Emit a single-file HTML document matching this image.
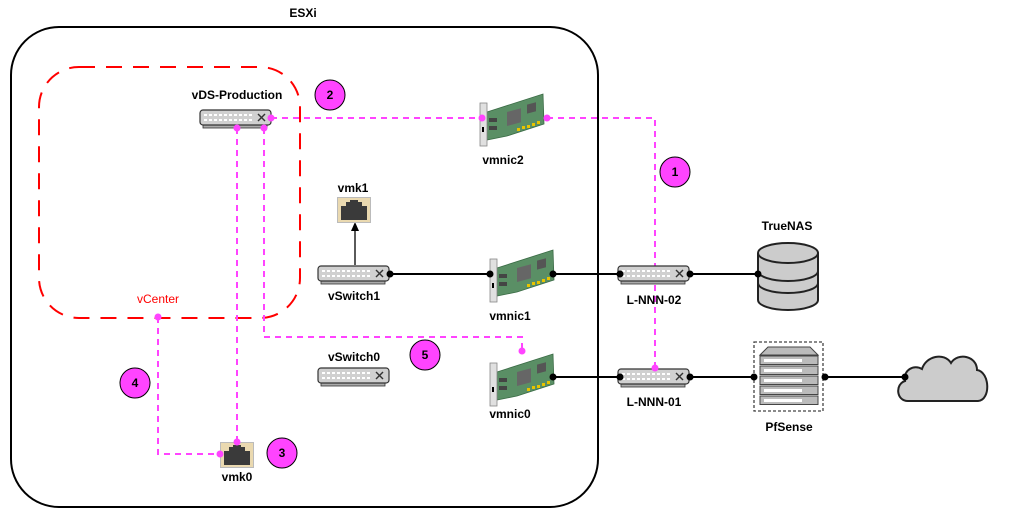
<!DOCTYPE html>
<html><head><meta charset="utf-8"><style>
html,body{margin:0;padding:0;background:#fff;width:1018px;height:519px;overflow:hidden}
text{font-family:"Liberation Sans",Arial,sans-serif;font-weight:bold;font-size:12px;fill:#000}
</style></head><body>
<svg width="1018" height="519" viewBox="0 0 1018 519" xmlns="http://www.w3.org/2000/svg">
<defs>
<symbol id="sw" viewBox="0 0 74 20" width="74" height="20" overflow="visible">
<rect x="4" y="15" width="64" height="4" fill="#aaa" stroke="#333" stroke-width="0.8"/>
<rect x="1" y="1" width="71" height="15" rx="3" fill="#d0d0d0" stroke="#333" stroke-width="1.2"/>
<g stroke="#fff" stroke-width="2" stroke-dasharray="3,2"><line x1="5" y1="6" x2="54" y2="6"/><line x1="5" y1="11" x2="54" y2="11"/></g>
<g stroke="#333" stroke-width="1.4"><line x1="59" y1="5" x2="66" y2="12"/><line x1="66" y1="5" x2="59" y2="12"/></g>
</symbol>
<symbol id="nic" viewBox="0 0 70 56" width="70" height="56" overflow="visible">
<polygon points="10,20 66,2 67,32 30,44 10,48" fill="#5a8f65" stroke="#3a6b45" stroke-width="0.8"/>
<rect x="30" y="18" width="14" height="14" fill="#666" transform="skewY(-15) translate(0,10)"/>
<rect x="50" y="12" width="9" height="9" fill="#555" transform="skewY(-15) translate(0,14)"/>
<g fill="#e8c400"><rect x="40" y="36" width="3" height="3"/><rect x="45" y="34" width="3" height="3"/><rect x="50" y="33" width="3" height="3"/><rect x="55" y="31" width="3" height="3"/><rect x="60" y="29" width="3" height="3"/></g>
<rect x="12" y="26" width="8" height="4" fill="#444"/><rect x="12" y="34" width="8" height="4" fill="#444"/>
<rect x="3" y="11" width="7" height="43" fill="#e0e0e0" stroke="#888" stroke-width="0.8"/>
<rect x="5" y="35" width="2" height="5" fill="#000"/>
</symbol>
<symbol id="rj" viewBox="0 0 34 26" width="34" height="26" overflow="visible">
<rect x="0.5" y="0.5" width="33" height="25" fill="#ead9b0" stroke="#bbb"/>
<path d="M4,9 h5 v-4 h4 v-2 h8 v2 h4 v4 h5 v14 h-26z" fill="#3a3a3a"/>
</symbol>
</defs>

<text x="303" y="17" text-anchor="middle">ESXi</text>
<rect x="11" y="27" width="587" height="480" rx="48" fill="none" stroke="#000" stroke-width="2"/>
<rect x="39" y="67" width="261" height="251" rx="40" fill="none" stroke="#f00" stroke-width="2" stroke-dasharray="16,11"/>

<g fill="none" stroke="#f4f" stroke-width="2" stroke-dasharray="6,5">
<path d="M271,118 H482"/>
<path d="M547,118 H655 V368"/>
<path d="M264,128 V337 H522 V351"/>
<path d="M237,128 V442"/>
<path d="M158,317 V454 H220"/>
</g>

<g stroke="#000" stroke-width="2">
<line x1="390" y1="274" x2="490" y2="274"/>
<line x1="553" y1="274" x2="620" y2="274"/>
<line x1="690" y1="274" x2="758" y2="274"/>
<line x1="553" y1="377" x2="620" y2="377"/>
<line x1="690" y1="377" x2="754" y2="377"/>
<line x1="825" y1="377" x2="905" y2="377"/>
<line x1="355" y1="265" x2="355" y2="230" stroke-width="1.3"/>
</g>
<polygon points="355,222 351,231 359,231" fill="#000"/>

<use href="#sw" x="199" y="109"/>
<use href="#sw" x="317" y="265"/>
<use href="#sw" x="317" y="367"/>
<use href="#sw" x="617" y="265"/>
<use href="#sw" x="617" y="368"/>
<use href="#nic" x="477" y="92"/>
<use href="#nic" x="487" y="248"/>
<use href="#nic" x="487" y="352"/>
<use href="#rj" x="337" y="197"/>
<use href="#rj" x="220" y="442"/>

<g stroke="#222" stroke-width="2" fill="#ccc">
<path d="M758,253 V300 A30,10 0 0 0 818,300 V253"/>
<path d="M758,271 A30,10 0 0 0 818,271 M758,283 A30,10 0 0 0 818,283" fill="none"/>
<ellipse cx="788" cy="253" rx="30" ry="10"/>
</g>

<rect x="754" y="342" width="69" height="69" fill="none" stroke="#444" stroke-width="1.3" stroke-dasharray="3,2"/>
<polygon points="760,355 768,347 810,347 818,355" fill="#bbb" stroke="#444"/>
<g fill="#bbb" stroke="#444">
<rect x="760" y="356" width="58" height="8.5"/><rect x="760" y="366" width="58" height="8.5"/><rect x="760" y="376" width="58" height="8.5"/><rect x="760" y="386" width="58" height="8.5"/><rect x="760" y="396" width="58" height="8.5"/>
</g>
<g fill="#fff"><rect x="764" y="359" width="38" height="3"/><rect x="764" y="369" width="38" height="3"/><rect x="764" y="379" width="38" height="3"/><rect x="764" y="389" width="38" height="3"/><rect x="764" y="399" width="38" height="3"/></g>

<path d="M908,401 C896,401 895,384 905,381 C903,370 914,364 922,369 C926,356 944,352 951,363 C958,352 977,356 977,370 C990,372 991,400 978,401 Z" fill="#ccc" stroke="#222" stroke-width="2"/>

<g fill="#000">
<circle cx="390" cy="274" r="3.5"/><circle cx="490" cy="274" r="3.5"/><circle cx="553" cy="274" r="3.5"/>
<circle cx="620" cy="274" r="3.5"/><circle cx="690" cy="274" r="3.5"/><circle cx="758" cy="274" r="3.5"/>
<circle cx="553" cy="377" r="3.5"/><circle cx="620" cy="377" r="3.5"/><circle cx="690" cy="377" r="3.5"/>
<circle cx="754" cy="377" r="3.5"/><circle cx="825" cy="377" r="3.5"/><circle cx="905" cy="377" r="3.5"/>
</g>
<g fill="#f4f">
<circle cx="271" cy="118" r="3.5"/><circle cx="482" cy="118" r="3.5"/><circle cx="547" cy="118" r="3.5"/>
<circle cx="237" cy="128" r="3.5"/><circle cx="264" cy="128" r="3.5"/><circle cx="655" cy="368" r="3.5"/>
<circle cx="522" cy="351" r="3.5"/><circle cx="237" cy="442" r="3.5"/><circle cx="220" cy="454" r="3.5"/>
<circle cx="158" cy="317" r="3.5"/>
</g>

<g fill="#f4f" stroke="#000" stroke-width="1">
<circle cx="330" cy="95" r="15"/><circle cx="675" cy="172" r="15"/><circle cx="425" cy="355" r="15"/>
<circle cx="135" cy="383" r="15"/><circle cx="282" cy="453" r="15"/>
</g>
<g text-anchor="middle">
<text x="330" y="99">2</text><text x="675" y="176">1</text><text x="425" y="359">5</text>
<text x="135" y="387">4</text><text x="282" y="457">3</text>
</g>

<g text-anchor="middle">
<text x="237" y="99">vDS-Production</text>
<text x="503" y="164">vmnic2</text>
<text x="353" y="192">vmk1</text>
<text x="354" y="300">vSwitch1</text>
<text x="510" y="320">vmnic1</text>
<text x="654" y="304">L-NNN-02</text>
<text x="787" y="230">TrueNAS</text>
<text x="158" y="303" style="fill:#f00;font-weight:normal">vCenter</text>
<text x="354" y="361">vSwitch0</text>
<text x="510" y="418">vmnic0</text>
<text x="654" y="406">L-NNN-01</text>
<text x="789" y="431">PfSense</text>
<text x="237" y="481">vmk0</text>
</g>
</svg>
</body></html>
